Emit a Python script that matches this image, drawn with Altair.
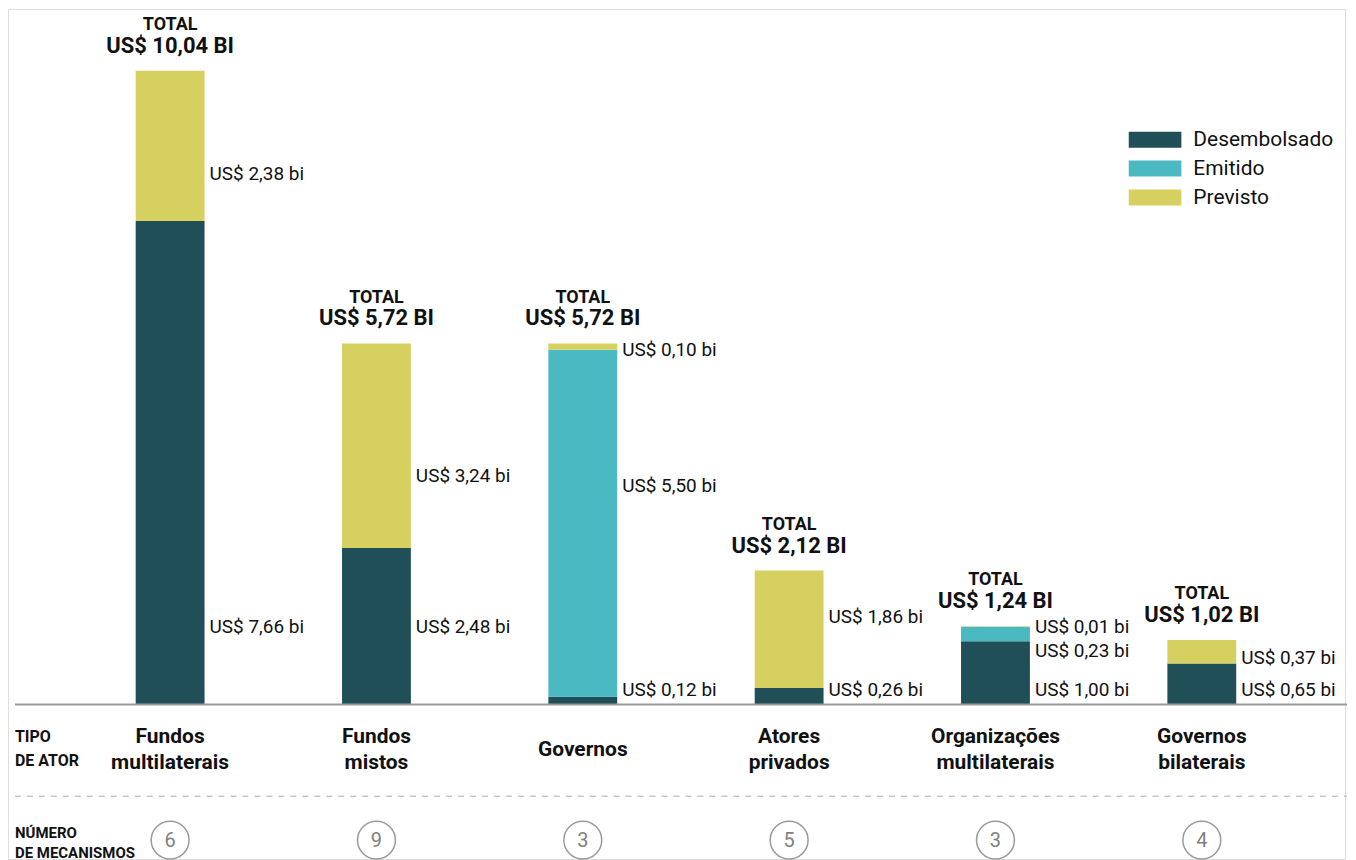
import altair as alt
import pandas as pd

categorias = ["Fundos multilaterais", "Fundos mistos", "Governos", "Atores privados",
              "Organizações multilaterais", "Governos bilaterais"]
rotulos_categoria = ["Fundos\nmultilaterais", "Fundos\nmistos", "Governos", "Atores\nprivados",
                     "Organizações\nmultilaterais", "Governos\nbilaterais"]
desembolsado = [7.66, 2.48, 0.12, 0.26, 1.00, 0.65]
emitido = [0.0, 0.0, 5.50, 0.0, 0.23, 0.0]
previsto = [2.38, 3.24, 0.10, 1.86, 0.01, 0.37]
totais = [10.04, 5.72, 5.72, 2.12, 1.24, 1.02]
mecanismos = [6, 9, 3, 5, 3, 4]
status = ["Desembolsado", "Emitido", "Previsto"]
cores = ["#204f58", "#4ab9c2", "#d6d060"]

# layout: vertical anchor (in US$ bi on the y scale) of each value label
ancora_desembolsado = [1.23, 1.23, 0.22, 0.22, 0.22, 0.22]
ancora_emitido = [None, None, 3.46, None, 0.85, None]
ancora_previsto = [8.41, 3.62, 5.61, 1.39, 1.22, 0.74]


def fmt(v):
    return f"{v:.2f}".replace(".", ",")


rows = []
for i, c in enumerate(categorias):
    for o, (s, vals, anc) in enumerate(zip(status, [desembolsado, emitido, previsto],
                                           [ancora_desembolsado, ancora_emitido, ancora_previsto])):
        v = vals[i]
        if v > 0:
            rows.append({"cat": c, "status": s, "ordem": o, "valor": v,
                         "ancora": anc[i], "texto": f"US$ {fmt(v)} bi"})
seg = pd.DataFrame(rows)

tot = pd.DataFrame({
    "cat": categorias,
    "total": totais,
    "texto_total": [f"US$ {fmt(t)} BI" for t in totais],
    "rotulo": rotulos_categoria,
    "mec": [str(m) for m in mecanismos],
})
um = pd.DataFrame({"a": [0]})

FONT = "Roboto"
INK = "#111111"
xs = alt.Scale(domain=categorias, paddingInner=0.6663, paddingOuter=0.573, align=0.540)
ys = alt.Scale(domain=[-2.4507, 11.020], nice=False, zero=False)
X = alt.X("cat:N", scale=xs, axis=None)

bars = alt.Chart(seg).mark_bar().encode(
    x=X,
    y=alt.Y("valor:Q", stack="zero", scale=ys, axis=None),
    color=alt.Color("status:N", scale=alt.Scale(domain=status, range=cores),
                    legend=alt.Legend(title=None, orient="none", legendX=1123, legendY=117.5,
                                      symbolType="M-1,-0.302H1V0.302H-1Z", symbolSize=2809,
                                      symbolStrokeWidth=0, symbolOpacity=1,
                                      labelFontSize=21, labelFont=FONT, labelOffset=12,
                                      labelColor=INK, clipHeight=27, rowPadding=2, padding=0)),
    order=alt.Order("ordem:Q"),
)

valores = alt.Chart(seg).mark_text(align="left", baseline="middle", dx=39.5, fontSize=19,
                                   font=FONT, color=INK).encode(
    x=X, y=alt.Y("ancora:Q", scale=ys), text="texto:N")

total_lbl = alt.Chart(tot).mark_text(baseline="middle", dy=-46, fontSize=18, fontWeight="bold",
                                     font=FONT, color=INK).encode(
    x=X, y=alt.Y("total:Q", scale=ys), text=alt.value("TOTAL"))
total_val = alt.Chart(tot).mark_text(baseline="middle", dy=-25, fontSize=22, fontWeight="bold",
                                     font=FONT, color=INK).encode(
    x=X, y=alt.Y("total:Q", scale=ys), text="texto_total:N")

base = alt.Chart(um).mark_rule(color="#9a9a9a", strokeWidth=2).encode(
    y=alt.datum(0), x=alt.value(7), x2=alt.value(1342))
dash = alt.Chart(um).mark_rule(color="#aaaaaa", strokeWidth=1, strokeDash=[6, 6]).encode(
    y=alt.value(789), x=alt.value(7), x2=alt.value(1342))

cat_style = dict(baseline="middle", fontSize=21, fontWeight="bold", font=FONT,
                 lineBreak="\n", lineHeight=26, color=INK)
cat_lbl2 = alt.Chart(tot).transform_filter("indexof(datum.rotulo, '\\n') >= 0").mark_text(
    **cat_style).encode(x=X, y=alt.value(730), text="rotulo:N")
cat_lbl1 = alt.Chart(tot).transform_filter("indexof(datum.rotulo, '\\n') < 0").mark_text(
    **cat_style).encode(x=X, y=alt.value(743), text="rotulo:N")

tipo = alt.Chart(um).mark_text(align="left", baseline="middle", fontSize=16, fontWeight="bold",
                               font=FONT, lineBreak="\n", lineHeight=24, color=INK).encode(
    x=alt.value(7), y=alt.value(730), text=alt.value("TIPO\nDE ATOR"))
numero = alt.Chart(um).mark_text(align="left", baseline="middle", fontSize=15, fontWeight="bold",
                                 font=FONT, lineBreak="\n", lineHeight=20, color=INK).encode(
    x=alt.value(7), y=alt.value(826), text=alt.value("NÚMERO\nDE MECANISMOS"))

circ = alt.Chart(tot).mark_point(shape="circle", size=1444, filled=False, strokeWidth=1.5,
                                 color="#9a9a9a", opacity=1).encode(x=X, y=alt.value(833))
num = alt.Chart(tot).mark_text(baseline="middle", fontSize=20, font=FONT, color="#808080").encode(
    x=X, y=alt.value(834), text="mec:N")

chart = alt.layer(bars, valores, total_lbl, total_val, base, dash, cat_lbl2, cat_lbl1, tipo,
                  numero, circ, num
                  ).properties(width=1340, height=852, padding=0
                  ).configure_view(stroke=None).configure(font=FONT)

chart.save("out.html", embed_options={"renderer": "svg", "actions": False})
